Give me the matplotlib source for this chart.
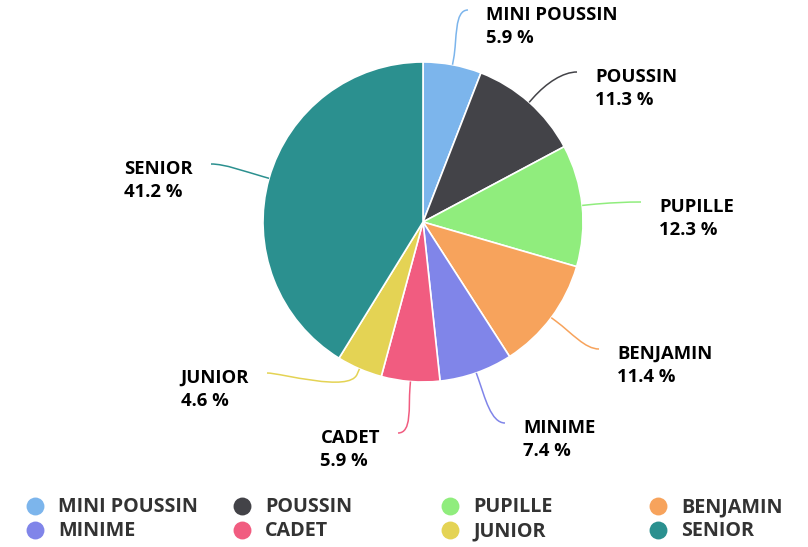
import numpy as np
import matplotlib
matplotlib.use("Agg")
import matplotlib.pyplot as plt
from matplotlib.path import Path
from matplotlib.patches import PathPatch

# ---- data ----
categories = ["MINI POUSSIN", "POUSSIN", "PUPILLE", "BENJAMIN",
              "MINIME", "CADET", "JUNIOR", "SENIOR"]
values = [5.9, 11.3, 12.3, 11.4, 7.4, 5.9, 4.6, 41.2]
colors = ["#7cb5ec", "#434348", "#90ed7d", "#f7a35c",
          "#8085e9", "#f15c80", "#e4d354", "#2b908f"]

# ---- layout (pixel coordinates, y from top) ----
W, H = 808, 547
CX, CY, R = 423, 222, 160
# connector end points next to each label
label_anchor = [(468, 10), (577, 72), (641, 202), (599, 349),
                (505, 423), (398, 433), (267, 373), (211, 164)]
label_side = ["r", "r", "r", "r", "r", "l", "l", "l"]

plt.rcParams['font.family'] = ['Open Sans', 'DejaVu Sans']

fig = plt.figure(figsize=(W / 100, H / 100), dpi=100)
ax = fig.add_axes([0, 0, 1, 1])
ax.set_xlim(0, W)
ax.set_ylim(H, 0)
ax.axis('off')

# pie in inverted y-axis: counterclock in data = clockwise on screen
wedges, _ = ax.pie(values, colors=colors, center=(CX, CY), radius=R,
                   startangle=-90, counterclock=True,
                   wedgeprops=dict(edgecolor='white', linewidth=1.2))
ax.set_xlim(0, W)
ax.set_ylim(H, 0)
ax.set_aspect('equal')

LFS = 13.3
for w, name, val, (ex, ey), side, col in zip(wedges, categories, values,
                                              label_anchor, label_side, colors):
    mid = np.deg2rad((w.theta1 + w.theta2) / 2)
    ux, uy = np.cos(mid), np.sin(mid)
    p_edge = (CX + R * ux, CY + R * uy)
    p_near = (CX + (R + 6) * ux, CY + (R + 6) * uy)
    p_ctrl = (CX + (R + 26) * ux, CY + (R + 26) * uy)
    hdir = -1 if side == "r" else 1
    p_c1 = (ex + hdir * 14, ey)
    verts = [(ex, ey), p_c1, p_ctrl, p_near, p_edge]
    codes = [Path.MOVETO, Path.CURVE4, Path.CURVE4, Path.CURVE4, Path.LINETO]
    ax.add_patch(PathPatch(Path(verts, codes), fill=False, edgecolor=col,
                           linewidth=1.1, zorder=3))
    if side == "r":
        tx = ex + 18
        ax.text(tx, ey + 5, name, ha='left', va='center', fontsize=LFS,
                fontweight='bold', color='black')
        ax.text(tx, ey + 28, f"{val:.1f} %", ha='left', va='center',
                fontsize=LFS, fontweight='bold', color='black')
    else:
        # block right-aligned, lines left-aligned within block
        t = ax.text(ex - 18, ey + 5, name, ha='right', va='center', fontsize=LFS,
                    fontweight='bold', color='black')
        fig.canvas.draw()
        bb = t.get_window_extent()
        inv = ax.transData.inverted()
        x0 = inv.transform((bb.x0, 0))[0]
        ax.text(x0, ey + 28, f"{val:.1f} %", ha='left', va='center',
                fontsize=LFS, fontweight='bold', color='black')

# ---- legend ----
col_sym_x = [35, 242, 450, 658]
row_y = [506, 530]
for i, (name, col) in enumerate(zip(categories, colors)):
    r_, c_ = divmod(i, 4)
    ax.scatter([col_sym_x[c_]], [row_y[r_]], s=16 ** 2 * 0.72 ** 2 * 1.25,
               color=col, marker='o', linewidths=0, zorder=4)
    ax.text(col_sym_x[c_] + 23, row_y[r_] + 1, name, ha='left', va='center',
            fontsize=14.2, fontweight='bold', color='#333333')

fig.savefig("out.png", dpi=100)
